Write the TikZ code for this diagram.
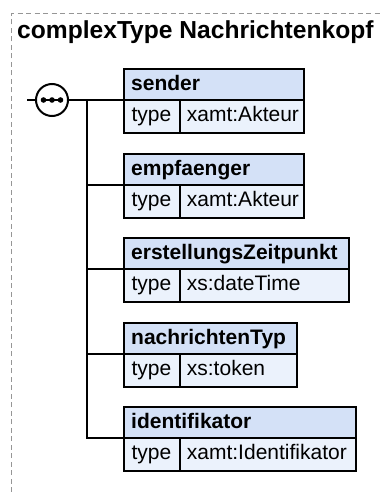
\documentclass[tikz,border=0pt]{standalone}
\usepackage{fontspec}
\setmainfont{Liberation Sans}
\definecolor{hdrblue}{RGB}{212,225,247}
\definecolor{rowblue}{RGB}{235,242,252}
\definecolor{dashgray}{RGB}{150,150,150}
\tikzset{
  hdr/.style={draw=black, line width=2pt, fill=hdrblue, minimum height=31pt, inner sep=0pt, outer sep=0pt, anchor=north west},
  cell/.style={draw=black, line width=2pt, fill=rowblue, minimum height=33pt, inner sep=0pt, outer sep=0pt, anchor=north west},
  htext/.style={anchor=base west, inner sep=0pt, font=\bfseries\fontsize{21}{25}\selectfont},
  ctext/.style={anchor=base west, inner sep=0pt, font=\fontsize{21}{25}\selectfont},
  wire/.style={line width=2pt, draw=black},
  frame/.style={draw=dashgray, line width=1pt, dash pattern=on 5pt off 3.5pt}
}
\begin{document}
\begin{tikzpicture}[x=1pt, y=-1pt]
\useasboundingbox (0,0) rectangle (381,492);
% dashed frame
\draw[frame] (11.5,492) -- (11.5,13.5) -- (381,13.5);
\node[anchor=base west, inner sep=0pt, font=\bfseries\fontsize{24.6}{29}\selectfont] (title) at (17,39) {complexType Nachrichtenkopf};

% element boxes
\foreach \n/\top/\right/\name/\val in {
  1/69/304/sender/xamt:Akteur,
  2/154/304/empfaenger/xamt:Akteur,
  3/238/349/erstellungsZeitpunkt/xs:dateTime,
  4/323/297/nachrichtenTyp/xs:token,
  5/407/356/identifikator/xamt:Identifikator}{
  \pgfmathsetmacro{\w}{\right-124}
  \pgfmathsetmacro{\vw}{\right-180}
  \node[hdr, minimum width=\w pt] (h\n) at (124,\top) {};
  \node[cell, minimum width=56pt] (t\n) at (h\n.south west) {};
  \node[cell, minimum width=\vw pt] (v\n) at (t\n.north east) {};
  \node[htext] (ht\n) at (131,\top+21.5) {\name};
  \node[ctext] (tt\n) at (131.3,\top+52.5) {type};
  \node[ctext] (vt\n) at (186.7,\top+52.5) {\val};
}

% sequence compositor
\coordinate (in) at (27,100);
\node[circle, draw=black, line width=2pt, fill=white, minimum size=32pt, inner sep=0pt, outer sep=0pt] (seq) at (52,100) {};
\draw[wire] (in) -- (seq.west);
\draw[line width=1.5pt] ([xshift=-8.5pt]seq.center) -- ([xshift=8.5pt]seq.center);
\fill ([xshift=-8.5pt]seq.center) circle (2.8pt);
\fill (seq.center) circle (2.8pt);
\fill ([xshift=8.5pt]seq.center) circle (2.8pt);

% connectors
\coordinate (j) at (87,100);
\draw[wire] (seq.east) -- (h1.south west);
\draw[wire] (j) |- (h5.south west);
\draw[wire] (j |- h2.south west) -- (h2.south west);
\draw[wire] (j |- h3.south west) -- (h3.south west);
\draw[wire] (j |- h4.south west) -- (h4.south west);
\end{tikzpicture}
\end{document}
